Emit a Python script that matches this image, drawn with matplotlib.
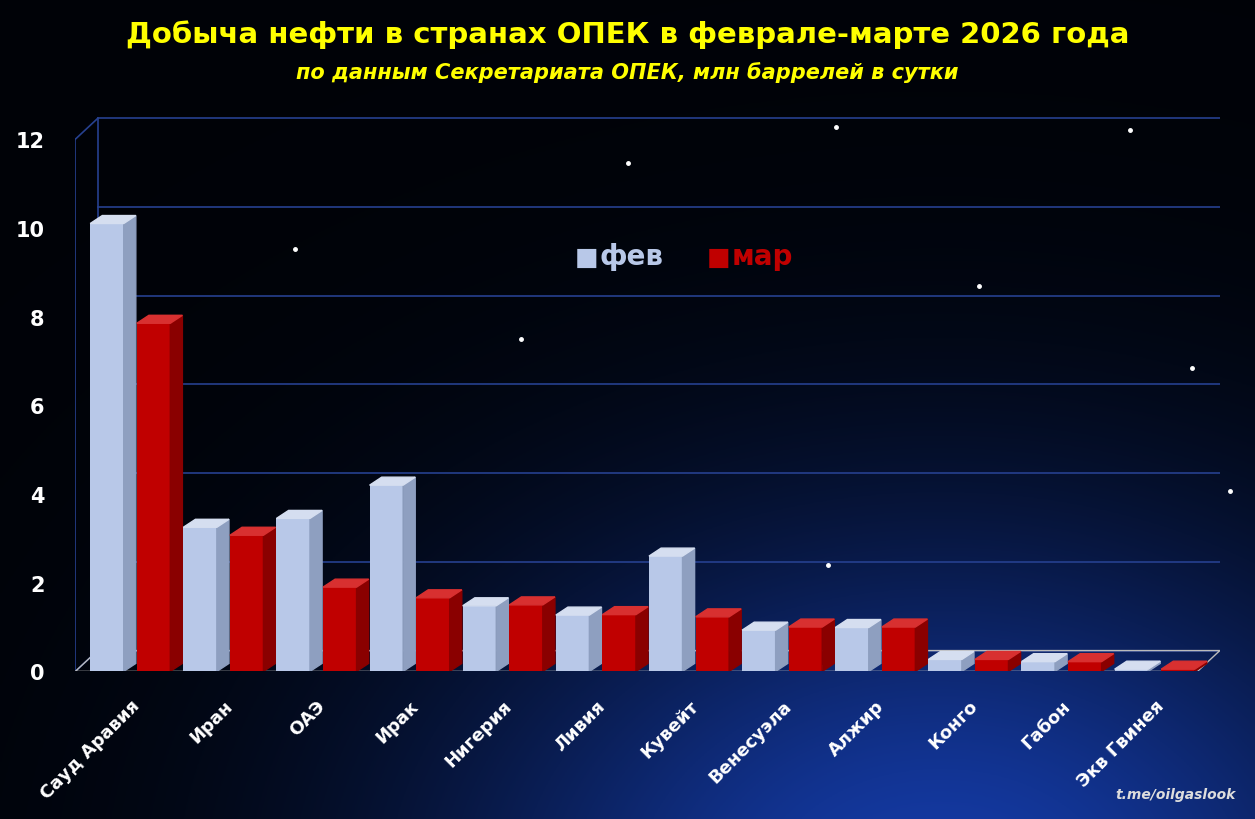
import matplotlib
matplotlib.use("Agg")
import matplotlib.pyplot as plt
import numpy as np
from matplotlib.patches import Polygon

plt.rcParams['font.family'] = ['DejaVu Sans Condensed', 'DejaVu Sans']

countries = ["Сауд Аравия", "Иран", "ОАЭ", "Ирак", "Нигерия", "Ливия", "Кувейт",
             "Венесуэла", "Алжир", "Конго", "Габон", "Экв Гвинея"]
feb = [10.1, 3.25, 3.45, 4.2, 1.48, 1.27, 2.6, 0.93, 0.99, 0.27, 0.22, 0.05]
mar = [7.85, 3.07, 1.9, 1.66, 1.5, 1.28, 1.23, 1.0, 1.0, 0.27, 0.22, 0.05]
yticks = [0, 2, 4, 6, 8, 10, 12]

W, H = 1255, 820
fig = plt.figure(figsize=(W/100, H/100), dpi=100)
bg = fig.add_axes([0, 0, 1, 1]); bg.set_axis_off()
yy, xx = np.mgrid[0:1:300j, 0:1:460j]
glow = np.exp(-(((xx-0.75)/0.4)**2 + ((yy-1.1)/0.45)**2))
img = np.zeros((300, 460, 3))
img[..., 0] = 0.0 + 0.08*glow
img[..., 1] = 0.01 + 0.22*glow
img[..., 2] = 0.03 + 0.62*glow
bg.imshow(np.clip(img, 0, 1), extent=[0, 1, 1, 0], aspect='auto')
bg.set_xlim(0, 1); bg.set_ylim(1, 0)
stars = [(0.235, 0.305), (0.666, 0.156), (0.415, 0.415), (0.66, 0.69), (0.655, 0.815),
         (0.95, 0.45), (0.9, 0.16), (0.12, 0.5), (0.5, 0.2), (0.78, 0.35), (0.3, 0.62), (0.98, 0.6)]
for sx, sy in stars:
    bg.plot(sx, sy, 'o', color='white', ms=2.5)

fig.text(0.5, 0.958, "Добыча нефти в странах ОПЕК в феврале-марте 2026 года", ha='center', va='center',
         color='#ffff00', fontsize=21, fontweight='bold')
fig.text(0.5, 0.912, "по данным Секретариата ОПЕК, млн баррелей в сутки", ha='center', va='center',
         color='#ffff00', fontsize=15, fontweight='bold', style='italic')
fig.text(0.985, 0.025, "t.me/oilgaslook", ha='right', color='#dddddd', fontsize=10,
         fontweight='bold', style='italic')

ax = fig.add_axes([0.06, 0.18, 0.912, 0.676])
ax.patch.set_alpha(0)
x = np.arange(len(countries))
bw = 0.36
off = 0.25
dx, dy = 0.13, 0.18
gx, gy = 0.24, 0.47
x0, x1 = -0.59, 11.7
ax.set_xlim(x0, x1)
ax.set_ylim(0, 12.5)
for t in yticks:
    ax.plot([x0+gx, x1], [t+gy, t+gy], color='#26408f', lw=1.2, zorder=0)
ax.plot([x0, x0+gx], [0, gy], color='#26408f', lw=1.2, zorder=0)
ax.plot([x0, x0+gx], [12, 12+gy], color='#26408f', lw=1.2, zorder=0)
ax.plot([x0+gx, x0+gx], [gy, 12+gy], color='#26408f', lw=1.2, zorder=0)
ax.add_patch(Polygon([(x0, 0), (x0+gx, gy), (x1, gy), (x1-gx, 0)], closed=True,
                     fill=False, edgecolor='#bbbbbb', lw=1, zorder=1))
ax.plot([x0, x0], [0, 12], color='#26408f', lw=1.2, zorder=0)

def bar3d(xc, h, front, side, top):
    ax.bar(xc, h, bw, color=front, zorder=3)
    l, r = xc-bw/2, xc+bw/2
    ax.add_patch(Polygon([(r, 0), (r+dx, dy), (r+dx, h+dy), (r, h)], color=side, zorder=3))
    ax.add_patch(Polygon([(l, h), (l+dx, h+dy), (r+dx, h+dy), (r, h)], color=top, zorder=3))

for i in x:
    bar3d(i-off, feb[i], '#b8c8e8', '#8e9fc0', '#d5def0')
    bar3d(i+off, mar[i], '#c00000', '#8a0000', '#d83030')

ax.set_xticks(x)
ax.set_xticklabels(countries, rotation=45, ha='right', rotation_mode='anchor',
                   color='white', fontsize=13, fontweight='bold')
ax.set_yticks(yticks)
ax.set_yticklabels([str(t) for t in yticks], color='white', fontsize=15, fontweight='bold')
ax.tick_params(axis='y', length=0, pad=22)
ax.tick_params(axis='x', length=0, pad=18)
for s in ax.spines.values():
    s.set_visible(False)

fig.text(0.458, 0.686, "■", color='#b8c8e8', fontsize=18, va='center')
fig.text(0.478, 0.686, "фев", color='#b8c8e8', fontsize=20, fontweight='bold', va='center')
fig.text(0.563, 0.686, "■", color='#c00000', fontsize=18, va='center')
fig.text(0.583, 0.686, "мар", color='#c00000', fontsize=20, fontweight='bold', va='center')

fig.savefig("out.png", dpi=100)
